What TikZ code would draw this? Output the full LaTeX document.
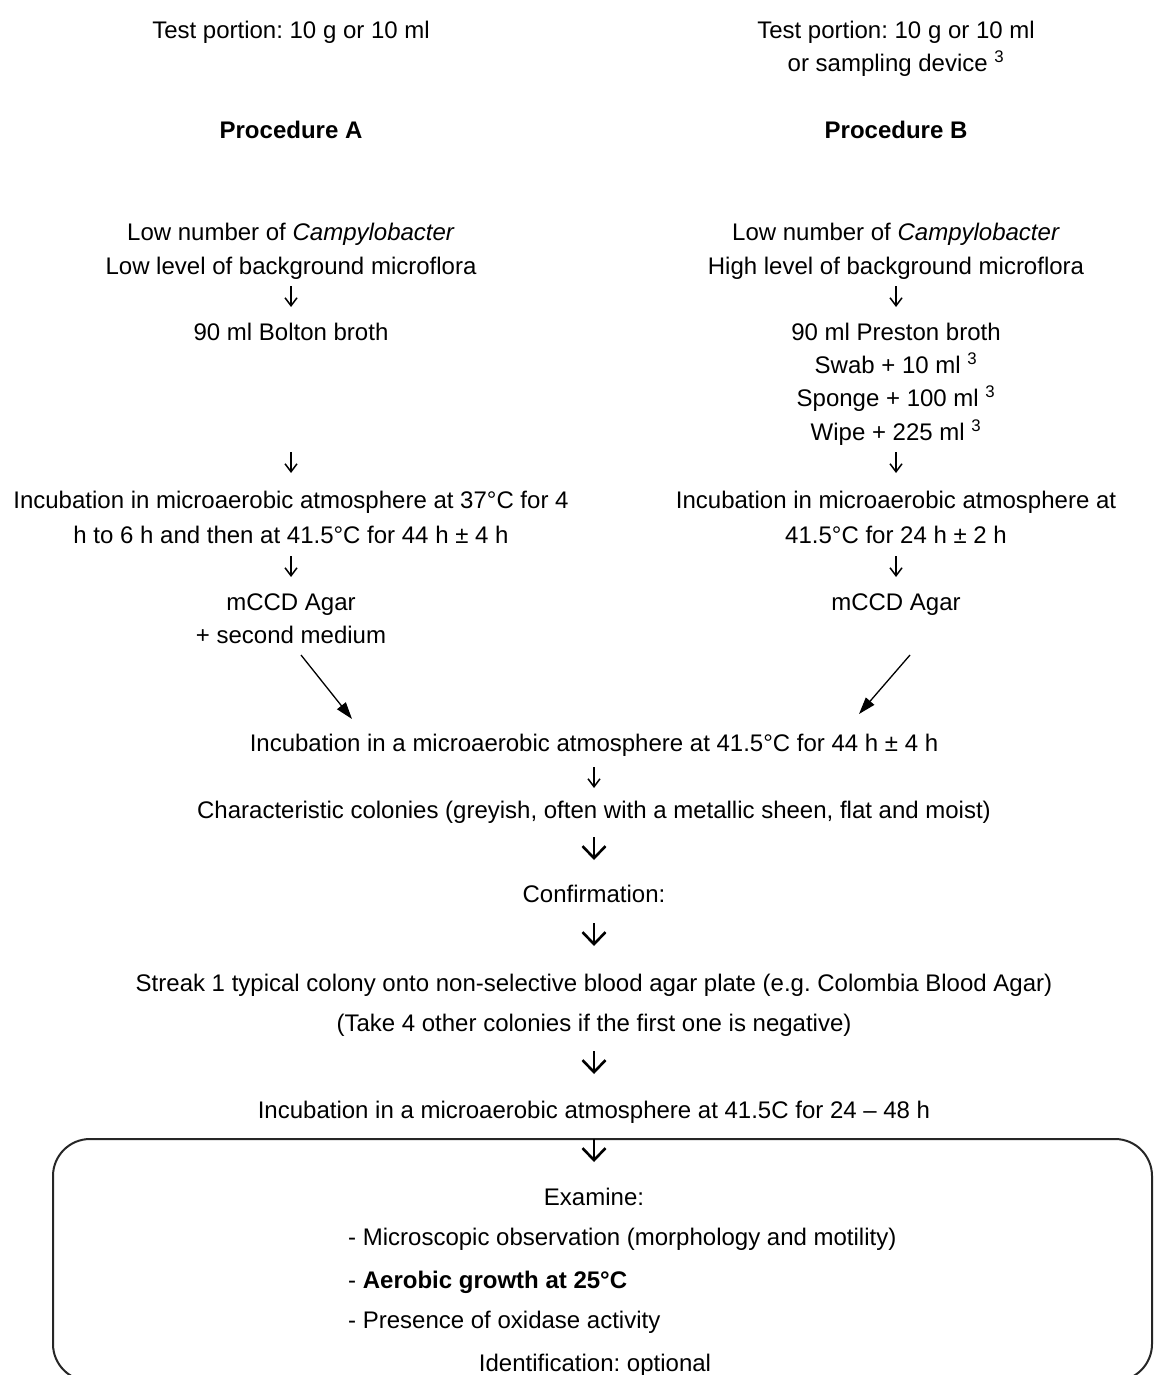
\documentclass[tikz,border=0pt]{standalone}
\usepackage{fontspec}
\setmainfont{Liberation Sans}
\frenchspacing
\usetikzlibrary{arrows.meta}
\tikzset{
  txt/.style={inner sep=0pt, text height=17pt, text depth=0pt, anchor=center,
              font=\fontsize{24}{30}\selectfont\frenchspacing},
  ltxt/.style={txt, anchor=west},
  sarr/.style={line width=1.5pt, -{Straight Barb[length=8pt,width=12pt]}},
  barr/.style={line width=2.6pt, -{Straight Barb[length=12pt,width=23pt]}},
  diag/.style={line width=1.3pt, -{Triangle[length=17pt,width=11pt]}},
  exbox/.style={draw=black!85, line width=2pt, rounded corners=37pt, inner sep=0pt}
}
\begin{document}
\begin{tikzpicture}[x=1pt,y=-1pt]
\useasboundingbox (0,0) rectangle (1153,1375);
\clip (0,0) rectangle (1153,1375);

% bottom box
\node[exbox, minimum width=1099pt, minimum height=242pt] (box) at (602.5,1260) {};

% left column (Procedure A)
\node[txt] (tpA) at (291,30) {Test portion: 10 g or 10 ml};
\node[txt, font=\fontsize{24}{30}\selectfont\bfseries] (procA) at (291,130) {Procedure A};
\node[txt] (lowA) at (291,232) {Low number of \textit{Campylobacter}};
\node[txt] (bgA) at (291,266) {Low level of background microflora};
\node[txt] (brothA) at (291,332) {90 ml Bolton broth};
\node[txt] (incA1) at (291,500) {Incubation in microaerobic atmosphere at 37°C for 4};
\node[txt] (incA2) at (291,535) {h to 6 h and then at 41.5°C for 44 h ± 4 h};
\node[txt] (agarA) at (291,602) {mCCD Agar};
\node[txt] (secA) at (291,635) {+ second medium};

% right column (Procedure B)
\node[txt] (tpB) at (896,30) {Test portion: 10 g or 10 ml};
\node[txt] (tpB2) at (896,63) {or sampling device \textsuperscript{3}};
\node[txt, font=\fontsize{24}{30}\selectfont\bfseries] (procB) at (896,130) {Procedure B};
\node[txt] (lowB) at (896,232) {Low number of \textit{Campylobacter}};
\node[txt] (bgB) at (896,266) {High level of background microflora};
\node[txt] (brothB) at (896,332) {90 ml Preston broth};
\node[txt] (swab) at (896,365) {Swab + 10 ml \textsuperscript{3}};
\node[txt] (sponge) at (896,398) {Sponge + 100 ml \textsuperscript{3}};
\node[txt] (wipe) at (896,432) {Wipe + 225 ml \textsuperscript{3}};
\node[txt] (incB1) at (896,500) {Incubation in microaerobic atmosphere at};
\node[txt] (incB2) at (896,535) {41.5°C for 24 h ± 2 h};
\node[txt] (agarB) at (896,602) {mCCD Agar};

% small down arrows (start / end points)
\coordinate (aA1s) at (291,286); \coordinate (aA1e) at (291,307);
\coordinate (aA2s) at (291,452); \coordinate (aA2e) at (291,473);
\coordinate (aA3s) at (291,556); \coordinate (aA3e) at (291,577);
\coordinate (aB1s) at (896,286); \coordinate (aB1e) at (896,307);
\coordinate (aB2s) at (896,452); \coordinate (aB2e) at (896,473);
\coordinate (aB3s) at (896,556); \coordinate (aB3e) at (896,577);
\draw[sarr] (aA1s) -- (aA1e);
\draw[sarr] (aA2s) -- (aA2e);
\draw[sarr] (aA3s) -- (aA3e);
\draw[sarr] (aB1s) -- (aB1e);
\draw[sarr] (aB2s) -- (aB2e);
\draw[sarr] (aB3s) -- (aB3e);

% diagonal connectors
\coordinate (dA1) at (301,655);
\coordinate (dA2) at (352,719);
\coordinate (dB1) at (910,655);
\coordinate (dB2) at (859,714);
\draw[diag] (dA1) -- (dA2);
\draw[diag] (dB1) -- (dB2);

% centre column
\node[txt] (inc1) at (594,743) {Incubation in a microaerobic atmosphere at 41.5°C for 44 h ± 4 h};
\node[txt] (colon) at (594,810) {Characteristic colonies (greyish, often with a metallic sheen, flat and moist)};
\node[txt] (conf) at (594,894) {Confirmation:};
\node[txt] (streak) at (594,983) {Streak 1 typical colony onto non-selective blood agar plate (e.g. Colombia Blood Agar)};
\node[txt] (take) at (594,1023) {(Take 4 other colonies if the first one is negative)};
\node[txt] (inc2) at (594,1110) {Incubation in a microaerobic atmosphere at 41.5C for 24 – 48 h};
\node[txt] (exam) at (594,1197) {Examine:};
\node[ltxt] (it1) at (348,1237) {- Microscopic observation (morphology and motility)};
\node[ltxt] (it2) at (348,1280) {- \textbf{Aerobic growth at 25°C}};
\node[ltxt] (it3) at (348,1320) {- Presence of oxidase activity};
\node[txt] (ident) at (595,1363) {Identification: optional};

% centre arrows
\coordinate (c1s) at (594,767); \coordinate (c1e) at (594,788);
\draw[sarr] (c1s) -- (c1e);
\coordinate (c2s) at (594,837); \coordinate (c2e) at (594,860);
\coordinate (c3s) at (594,923); \coordinate (c3e) at (594,946);
\coordinate (c4s) at (594,1051); \coordinate (c4e) at (594,1074);
\coordinate (c5s) at (594,1139); \coordinate (c5e) at (594,1162);
\draw[barr] (c2s) -- (c2e);
\draw[barr] (c3s) -- (c3e);
\draw[barr] (c4s) -- (c4e);
\draw[barr] (c5s) -- (c5e);
\end{tikzpicture}
\end{document}
